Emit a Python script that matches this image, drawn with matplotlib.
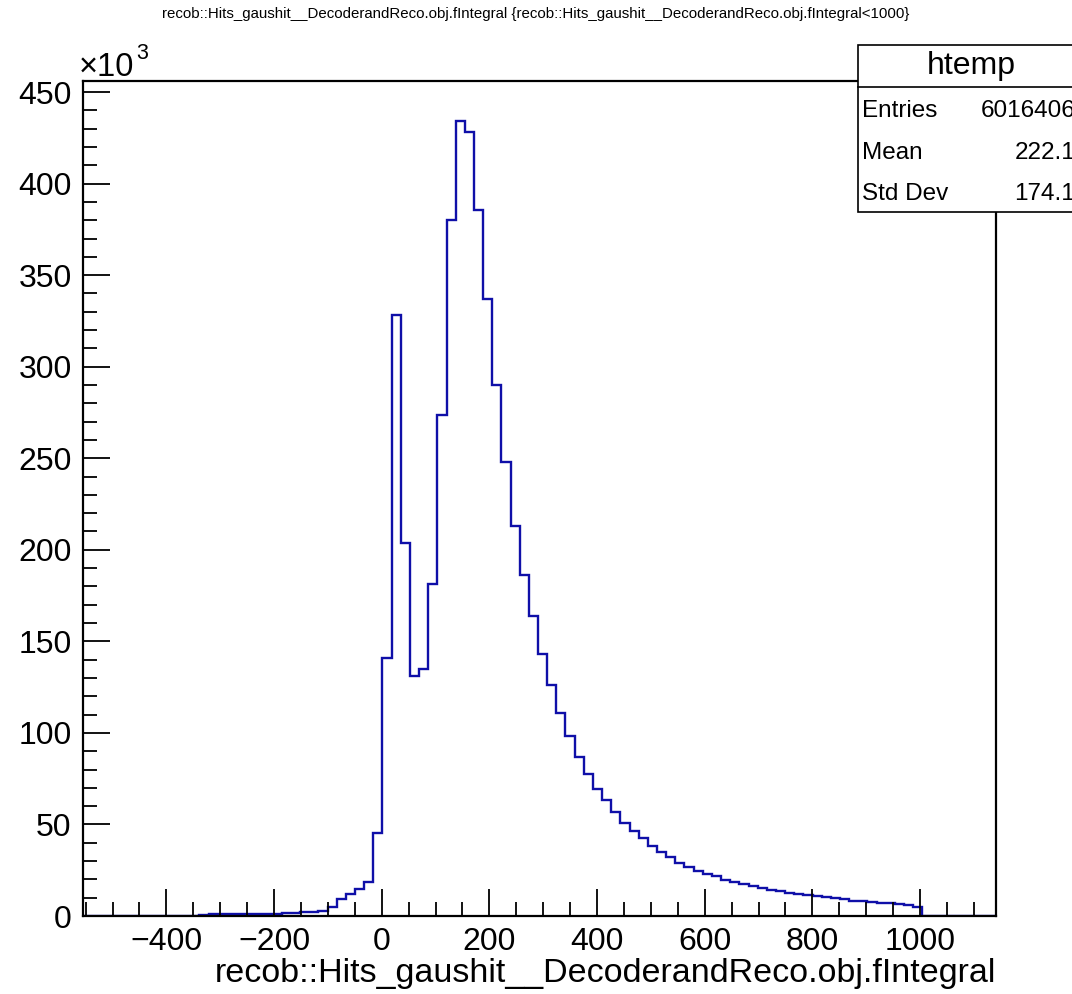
import numpy as np
import matplotlib
matplotlib.use("Agg")
import matplotlib.pyplot as plt
from matplotlib.patches import Rectangle
from matplotlib.lines import Line2D
from matplotlib.ticker import MultipleLocator

plt.rcParams['font.family'] = ['Liberation Sans', 'DejaVu Sans']

# ---------------- data ----------------
hist_name = "htemp"
var_name = "recob::Hits_gaushit__DecoderandReco.obj.fIntegral"
title_text = ("recob::Hits_gaushit__DecoderandReco.obj.fIntegral "
              "{recob::Hits_gaushit__DecoderandReco.obj.fIntegral<1000}")
x_low, x_high, n_bins = -559.6, 1140.4, 100
# bin contents in units of 10^3 entries
counts_k = [
    0, 0, 0, 0, 0, 0, 0, 0, 0, 0,                      # 0-9
    0, 0, 0, 0.8, 0.9, 0.9, 0.9, 1.0, 1.0, 1.0,        # 10-19
    1.1, 1.1, 1.8, 1.9, 2.0, 2.1, 2.9, 5.1, 9.1, 11.9,  # 20-29
    14.6, 18.7, 45.5, 140.8, 328.3, 203.9, 131.3, 134.8, 181.4, 273.5,  # 30-39
    380.2, 434.3, 428.2, 385.7, 336.9, 290.1, 247.7, 213.2, 186.5, 163.7,  # 40-49
    143.0, 126.4, 110.7, 98.1, 86.9, 77.4, 69.4, 63.4, 56.8, 50.6,  # 50-59
    46.4, 42.4, 38.4, 35.1, 32.1, 28.8, 26.9, 24.7, 22.9, 21.7,  # 60-69
    19.9, 18.7, 17.4, 16.5, 15.4, 14.3, 13.4, 12.7, 12.2, 11.3,  # 70-79
    10.9, 10.4, 9.7, 9.3, 8.4, 8.0, 7.7, 7.0, 6.9, 6.6,  # 80-89
    6.0, 4.8, 0, 0, 0, 0, 0, 0, 0, 0,                    # 90-99
]
stat_labels = ["Entries", "Mean", "Std Dev"]
stat_values = ["6016406", "222.1", "174.1"]
x_ticks = [-400, -200, 0, 200, 400, 600, 800, 1000]
y_ticks = [0, 50, 100, 150, 200, 250, 300, 350, 400, 450]

# ---------------- figure ----------------
W, H = 1072, 994
fig = plt.figure(figsize=(W / 100, H / 100), dpi=100)
ax = fig.add_axes([82.7 / W, 1 - 916 / H, (995.7 - 82.7) / W, (916 - 81) / H])

edges = np.linspace(x_low, x_high, n_bins + 1)
vals = np.array(counts_k, dtype=float)
ax.stairs(vals, edges, color='#0f0fa8', linewidth=1.7, baseline=0, zorder=1)

ax.set_xlim(-555.4, 1140.6)
ax.set_ylim(0, 1.05 * vals.max())

ax.set_xticks(x_ticks)
ax.set_xticklabels([f"{t}".replace("-", "\u2212") for t in x_ticks])
ax.set_yticks(y_ticks)
ax.set_yticklabels([str(t) for t in y_ticks])
ax.xaxis.set_minor_locator(MultipleLocator(50))
ax.yaxis.set_minor_locator(MultipleLocator(10))

ax.tick_params(axis='both', which='both', direction='in', top=False, right=False,
               width=1.3, color='black', labelsize=23)
ax.tick_params(axis='both', which='major', length=19.5)
ax.tick_params(axis='both', which='minor', length=10)
ax.tick_params(axis='x', which='major', pad=8)
ax.tick_params(axis='y', which='major', pad=8)

for sp in ax.spines.values():
    sp.set_linewidth(1.6)
    sp.set_zorder(3)

# x axis label (right aligned as in ROOT)
fig.text(995.7 / W, 1 - 982 / H, var_name, ha='right', va='baseline', fontsize=24.5)

# title
fig.text(0.5, 1 - 18 / H, title_text, ha='center', va='baseline', fontsize=10.8)

# x10^3 exponent label
fig.text(79 / W, 1 - 76 / H, "\u00d710", ha='left', va='baseline', fontsize=23.5)
fig.text(136 / W, 1 - 59 / H, "3", ha='left', va='baseline', fontsize=15.5)

# statistics box
bx0, by_top, by_bot, by_sep = 858.3, 45, 211.7, 86.7
fig.patches.append(Rectangle((bx0 / W, 1 - by_bot / H), 0.3, (by_bot - by_top) / H,
                             transform=fig.transFigure, facecolor='white',
                             edgecolor='black', linewidth=1.2, zorder=5))
fig.lines.append(Line2D([bx0 / W, 1.0], [1 - by_sep / H] * 2, transform=fig.transFigure,
                        color='black', linewidth=1.2, zorder=6))
fig.text(971 / W, 1 - 74 / H, hist_name, ha='center', va='baseline', fontsize=23, zorder=7)
baselines = [117.3, 159, 200]
for lab, val, yb in zip(stat_labels, stat_values, baselines):
    fig.text(861.7 / W, 1 - yb / H, lab, ha='left', va='baseline', fontsize=17.5, zorder=7)
    fig.text(1075 / W, 1 - yb / H, val, ha='right', va='baseline', fontsize=17.5, zorder=7)

fig.savefig("out.png", dpi=100)
